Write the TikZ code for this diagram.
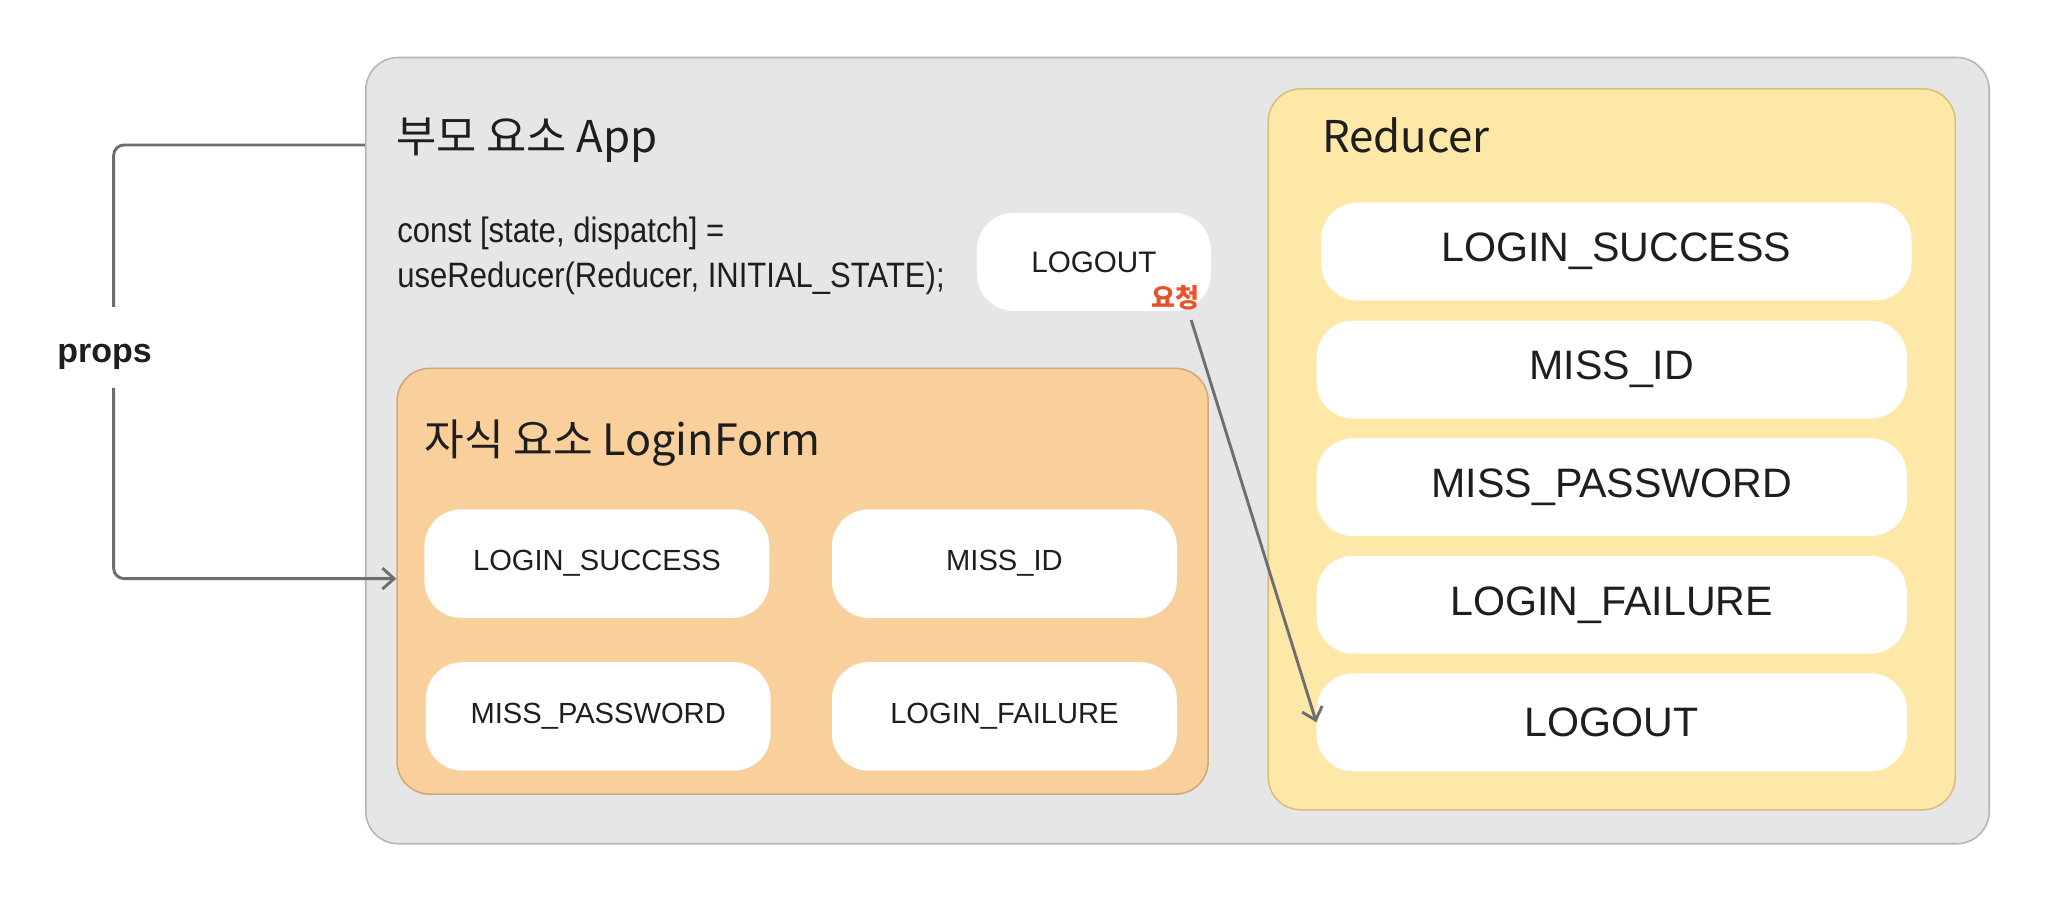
\documentclass[tikz,border=0pt]{standalone}
\usepackage{fontspec}
\setmainfont{Liberation Sans}
\newfontfamily\kr{Noto Sans CJK KR}
\newfontfamily\codefont[FakeStretch=0.88]{Liberation Sans}
\usetikzlibrary{arrows.meta}
\definecolor{appfill}{HTML}{E6E6E6}
\definecolor{appdraw}{HTML}{B5B5B5}
\definecolor{lffill}{HTML}{F9D09C}
\definecolor{lfdraw}{HTML}{D2A878}
\definecolor{rdfill}{HTML}{FDE8A7}
\definecolor{rddraw}{HTML}{D8C07A}
\definecolor{conncol}{HTML}{6E6E6E}
\definecolor{reqred}{HTML}{E8532A}
\definecolor{txt}{HTML}{1E1E1E}
\tikzset{
  container/.style={rounded corners=25pt, line width=1.2pt, inner sep=0pt},
  pill/.style={rounded corners=28pt, fill=white, draw=none, inner sep=0pt, text=txt},
  title/.style={anchor=west, inner sep=0pt, text=txt},
  conn/.style={draw=conncol, line width=2.2pt},
  tip/.style={-{Straight Barb[length=9pt,width=16pt,line width=2.2pt]}}
}
\begin{document}
\begin{tikzpicture}[x=1pt,y=-1pt]
\useasboundingbox (0,0) rectangle (1568,691);
\fill[white] (0,0) rectangle (1568,691);

% containers
\node[container, fill=appfill, draw=appdraw, minimum width=1243pt, minimum height=602pt] (app) at (901.5,345) {};
\node[container, fill=lffill, draw=lfdraw, minimum width=621pt, minimum height=326pt] (lf) at (614.5,445) {};
\node[container, fill=rdfill, draw=rddraw, minimum width=526pt, minimum height=552pt] (rd) at (1234,344) {};

% titles
\node[title, font=\kr\fontsize{33.5}{36}\selectfont] (apptitle) at (303,107) {부모 요소 App};
\node[title, font=\kr\fontsize{33}{36}\selectfont] (lftitle) at (325,339) {자식 요소 LoginForm};
\node[title, font=\kr\fontsize{33.5}{36}\selectfont] (rdtitle) at (1012,104) {Reducer};

% code
\node[title, align=left, font=\codefont\fontsize{27}{35}\selectfont] (code) at (304,196) {const [state, dispatch] =\\useReducer(Reducer, INITIAL\_STATE);};

% LOGOUT request box
\node[pill, minimum width=179pt, minimum height=75pt, font=\fontsize{22.7}{26}\selectfont] (logout) at (837.5,200.5) {LOGOUT};
\node[inner sep=0pt, text=reqred, font=\kr\bfseries\fontsize{20}{24}\selectfont] (req) at (900,228) {요청};

% LoginForm items
\tikzset{lfitem/.style={pill, minimum width=264pt, minimum height=83pt, font=\fontsize{22.3}{26}\selectfont}}
\node[lfitem] (lf1) at (457,431.5) {LOGIN\_SUCCESS};
\node[lfitem] (lf2) at (769,431.5) {MISS\_ID};
\node[lfitem] (lf3) at (458,548.5) {MISS\_PASSWORD};
\node[lfitem] (lf4) at (769,548.5) {LOGIN\_FAILURE};

% Reducer items
\tikzset{rditem/.style={pill, minimum width=452pt, minimum height=75pt, font=\fontsize{31.5}{36}\selectfont}}
\node[rditem] (r1) at (1237.5,192.5) {LOGIN\_SUCCESS};
\node[rditem] (r2) at (1234,283) {MISS\_ID};
\node[rditem] (r3) at (1234,373) {MISS\_PASSWORD};
\node[rditem] (r4) at (1234,463) {LOGIN\_FAILURE};
\node[rditem] (r5) at (1234,553) {LOGOUT};

% props connector
\node[inner sep=0pt, text=txt, font=\bfseries\fontsize{26}{30}\selectfont] (props) at (80,273) {props};
\coordinate (ptop) at (87,235);
\coordinate (pbot) at (87,297);
\draw[conn, rounded corners=8pt] (app.west |- 0,111) -| (ptop);
\draw[conn, tip, rounded corners=8pt] (pbot) |- (lf.west |- 0,443);

% request arrow
\draw[conn, tip] ([shift={(12,17)}]req.center) -- (r5.west);
\end{tikzpicture}
\end{document}
